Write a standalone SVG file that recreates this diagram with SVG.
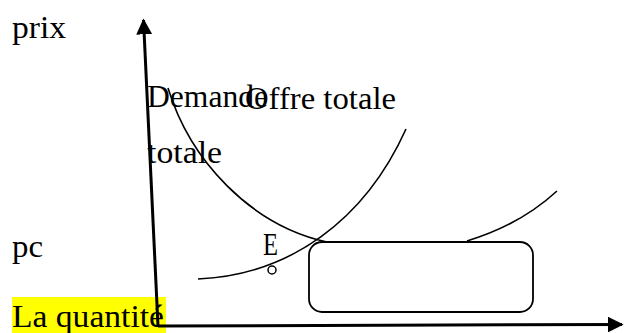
<svg xmlns="http://www.w3.org/2000/svg" width="625" height="333" viewBox="0 0 625 333">
<style>
text{font-family:"Liberation Serif","Times New Roman",serif;font-size:32px;fill:#000}
.curve{fill:none;stroke:#000;stroke-width:1.6}
.axis{fill:none;stroke:#000;stroke-width:3}
</style>
<defs>
<marker id="arr" viewBox="0 0 10 10" refX="9" refY="5" markerWidth="5.3" markerHeight="5.3" orient="auto" markerUnits="strokeWidth">
<path d="M0,0 L10,5 L0,10 z" fill="#000"/>
</marker>
</defs>
<rect width="625" height="333" fill="#fff"/>
<g id="labels">
<text x="12" y="38" textLength="54" lengthAdjust="spacingAndGlyphs">prix</text>
<text x="12" y="257" textLength="31" lengthAdjust="spacingAndGlyphs">pc</text>
<rect x="12" y="297" width="154" height="36" fill="#ffff00"/>
<text x="12" y="327" textLength="152" lengthAdjust="spacingAndGlyphs">La quantité</text>
</g>
<g id="connectors">
<line class="axis" x1="158" y1="326" x2="143.5" y2="20" marker-end="url(#arr)"/>
<line class="axis" x1="158" y1="326" x2="622" y2="324.5" marker-end="url(#arr)"/>
</g>
<g id="demande">
<path class="curve" d="M168,88 C190,160 250,225 327,242"/>
<path class="curve" d="M467,241 Q520,225 557,191"/>
<text x="147" y="107" textLength="121" lengthAdjust="spacingAndGlyphs">Demande</text>
<text x="147" y="163" textLength="75" lengthAdjust="spacingAndGlyphs">totale</text>
</g>
<g id="offre">
<path class="curve" d="M198,279 C290,275 365,220 406,129"/>
<text x="245" y="109" textLength="151" lengthAdjust="spacingAndGlyphs">Offre totale</text>
</g>
<g id="equilibre">
<text x="263" y="255" textLength="15" lengthAdjust="spacingAndGlyphs">E</text>
<circle cx="272" cy="270" r="4" fill="#fff" stroke="#000" stroke-width="1.5"/>
</g>
<g id="box">
<rect x="309" y="242" width="224" height="70" rx="13" ry="13" fill="#fff" stroke="#000" stroke-width="1.8"/>
</g>
</svg>
